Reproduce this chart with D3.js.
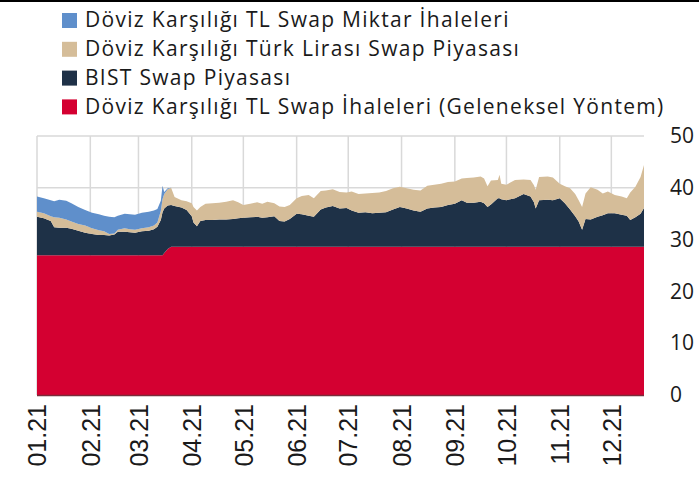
<!DOCTYPE html>
<html>
<head>
<meta charset="utf-8">
<script src="https://cdn.jsdelivr.net/npm/d3@7"></script>
<style>
  html, body { margin: 0; padding: 0; background: #fff; }
  svg { display: block; }
</style>
</head>
<body>
<svg id="chart" width="699" height="480"></svg>
<script>
// readings taken off the chart, billions USD, stacked bottom -> top
const dates = [
  '2021-01-01','2021-01-05','2021-01-09','2021-01-11','2021-01-14','2021-01-18','2021-01-21','2021-01-25','2021-01-29',
  '2021-02-02','2021-02-06','2021-02-09','2021-02-12','2021-02-15','2021-02-17','2021-02-21','2021-02-24','2021-02-27',
  '2021-03-03','2021-03-07','2021-03-10','2021-03-12','2021-03-14','2021-03-15','2021-03-16','2021-03-18','2021-03-20',
  '2021-03-22','2021-03-26','2021-03-29','2021-04-01','2021-04-02','2021-04-04','2021-04-06','2021-04-09','2021-04-13',
  '2021-04-17','2021-04-21','2021-04-25','2021-04-28','2021-05-01','2021-05-05','2021-05-09','2021-05-12','2021-05-15',
  '2021-05-19','2021-05-22','2021-05-25','2021-05-28','2021-06-01','2021-06-04','2021-06-08','2021-06-11','2021-06-15',
  '2021-06-18','2021-06-22','2021-06-26','2021-06-30','2021-07-03','2021-07-07','2021-07-11','2021-07-15','2021-07-19',
  '2021-07-23','2021-07-27','2021-07-31','2021-08-04','2021-08-08','2021-08-12','2021-08-16','2021-08-20','2021-08-24',
  '2021-08-28','2021-09-01','2021-09-05','2021-09-08','2021-09-12','2021-09-16','2021-09-18','2021-09-20','2021-09-22',
  '2021-09-26','2021-09-27','2021-09-28','2021-10-01','2021-10-06','2021-10-11','2021-10-15','2021-10-17','2021-10-18',
  '2021-10-20','2021-10-25','2021-10-28','2021-11-01','2021-11-04','2021-11-07','2021-11-10','2021-11-12','2021-11-14',
  '2021-11-16','2021-11-19','2021-11-23','2021-11-26','2021-11-29','2021-12-03','2021-12-07','2021-12-10','2021-12-12',
  '2021-12-15','2021-12-18','2021-12-20'
];

const geleneksel = [
  27, 27, 27, 27, 27, 27, 27, 27, 27,
  27, 27, 27, 27, 27, 27, 27, 27, 27,
  27, 27, 27, 27, 27, 27, 27.4, 28.2, 28.6,
  28.6, 28.6, 28.6, 28.6, 28.6, 28.6, 28.6, 28.6, 28.6,
  28.6, 28.6, 28.6, 28.6, 28.6, 28.6, 28.6, 28.6, 28.6,
  28.6, 28.6, 28.6, 28.6, 28.6, 28.6, 28.6, 28.6, 28.6,
  28.6, 28.6, 28.6, 28.6, 28.6, 28.6, 28.6, 28.6, 28.6,
  28.6, 28.6, 28.6, 28.6, 28.6, 28.6, 28.6, 28.6, 28.6,
  28.6, 28.6, 28.6, 28.6, 28.6, 28.6, 28.6, 28.6, 28.6,
  28.6, 28.6, 28.6, 28.6, 28.6, 28.6, 28.6, 28.6, 28.6,
  28.6, 28.6, 28.6, 28.6, 28.6, 28.6, 28.6, 28.6, 28.6,
  28.6, 28.6, 28.6, 28.6, 28.6, 28.6, 28.6, 28.6, 28.6,
  28.6, 28.6, 28.6
];

const bist = [
  7.4, 7.1, 6.6, 5.4, 5.3, 5.3, 5.1, 4.7, 4.3,
  4.1, 3.9, 3.9, 3.8, 4.0, 4.5, 4.5, 4.4, 4.3,
  4.6, 4.7, 5.0, 5.5, 6.8, 8.3, 8.6, 8.4, 8.1,
  7.9, 7.6, 7.1, 5.9, 4.7, 4.0, 5.0, 5.2, 5.2,
  5.3, 5.3, 5.4, 5.5, 5.6, 5.7, 5.8, 5.6, 5.7,
  5.9, 5.0, 4.9, 5.4, 6.4, 6.3, 6.0, 5.8, 7.2,
  7.6, 7.9, 7.4, 7.5, 7.0, 6.6, 6.7, 6.5, 6.6,
  6.7, 7.2, 7.7, 7.4, 7.0, 6.8, 7.4, 7.6, 7.7,
  8.1, 8.3, 9.0, 8.5, 8.5, 8.7, 8.4, 7.7, 8.2,
  9.4, 9.4, 9.2, 9.0, 9.4, 10.2, 9.7, 8.6, 7.4,
  9.0, 9.1, 9.0, 9.4, 8.4, 7.2, 5.9, 4.9, 3.3,
  5.4, 5.3, 5.8, 6.1, 6.5, 6.5, 6.2, 6.0, 5.2,
  5.7, 6.4, 7.5
];

const tlSwap = [
  1.0, 1.0, 0.9, 1.9, 1.9, 1.6, 1.4, 1.3, 1.4,
  1.1, 0.9, 0.7, 0.3, 0.2, 0.4, 0.7, 0.6, 0.6,
  0.6, 0.7, 0.7, 0.8, 1.7, 2.5, 2.8, 3.1, 3.3,
  1.7, 1.4, 1.7, 2.5, 3.0, 3.0, 2.7, 3.1, 3.2,
  3.2, 3.4, 3.6, 3.1, 2.5, 2.6, 2.8, 2.7, 3.0,
  2.5, 2.8, 2.8, 2.7, 3.0, 3.5, 4.0, 3.6, 3.6,
  3.3, 3.2, 3.2, 3.0, 3.7, 3.6, 3.6, 3.9, 3.9,
  4.1, 4.1, 3.9, 3.9, 4.0, 4.1, 4.4, 4.4, 4.5,
  4.4, 4.3, 4.2, 4.8, 4.9, 4.9, 4.8, 4.0, 4.6,
  3.5, 4.5, 3.0, 3.0, 3.5, 2.8, 3.2, 3.3, 3.6,
  4.5, 4.5, 4.4, 2.8, 3.3, 4.1, 4.3, 4.1, 4.4,
  4.9, 6.2, 5.2, 4.2, 4.2, 3.5, 3.5, 3.4, 5.3,
  5.9, 7.1, 8.3
];

const miktar = [
  2.9, 2.9, 3.1, 3.1, 3.5, 3.6, 3.5, 3.3, 3.0,
  3.0, 3.1, 3.0, 3.3, 3.1, 2.7, 2.8, 2.9, 2.9,
  3.0, 3.0, 2.9, 2.6, 2.0, 2.6, 0.4, 0.2, 0,
  0, 0, 0, 0, 0, 0, 0, 0, 0,
  0, 0, 0, 0, 0, 0, 0, 0, 0,
  0, 0, 0, 0, 0, 0, 0, 0, 0,
  0, 0, 0, 0, 0, 0, 0, 0, 0,
  0, 0, 0, 0, 0, 0, 0, 0, 0,
  0, 0, 0, 0, 0, 0, 0, 0, 0,
  0, 0, 0, 0, 0, 0, 0, 0, 0,
  0, 0, 0, 0, 0, 0, 0, 0, 0,
  0, 0, 0, 0, 0, 0, 0, 0, 0,
  0, 0, 0
];

const series = [
  { key: 'geleneksel', label: 'Döviz Karşılığı TL Swap İhaleleri (Geleneksel Yöntem)', color: '#d40031' },
  { key: 'bist', label: 'BIST Swap Piyasası', color: '#1e3147' },
  { key: 'tlSwap', label: 'Döviz Karşılığı Türk Lirası Swap Piyasası', color: '#d5bd99' },
  { key: 'miktar', label: 'Döviz Karşılığı TL Swap Miktar İhaleleri', color: '#5f8fcb' }
];

const monthTicks = ['01.21','02.21','03.21','04.21','05.21','06.21','07.21','08.21','09.21','10.21','11.21','12.21'];
const yTicks = [0, 10, 20, 30, 40, 50];

const parse = d3.timeParse('%Y-%m-%d');
const rows = dates.map((d, i) => ({
  date: parse(d),
  geleneksel: geleneksel[i],
  bist: bist[i],
  tlSwap: tlSwap[i],
  miktar: miktar[i]
}));

const svg = d3.select('#chart');
const plot = { left: 37, right: 644, top: 136, bottom: 395 };

const x = d3.scaleTime()
  .domain([parse('2021-01-01'), parse('2021-12-20')])
  .range([plot.left, plot.right]);

const y = d3.scaleLinear()
  .domain([0, 50])
  .range([plot.bottom, plot.top]);

// top rule
svg.append('line')
  .attr('x1', 0).attr('x2', 699)
  .attr('y1', 1).attr('y2', 1)
  .attr('stroke', '#000').attr('stroke-width', 2);

// grid
const monthDates = monthTicks.map((m) => parse(`20${m.slice(3)}-${m.slice(0, 2)}-01`));
const grid = svg.append('g').attr('stroke', '#d9d9d9').attr('stroke-width', 1.5);
grid.selectAll('line.v')
  .data(monthDates)
  .join('line')
  .attr('class', 'v')
  .attr('x1', (d) => x(d)).attr('x2', (d) => x(d))
  .attr('y1', plot.top).attr('y2', plot.bottom);
grid.selectAll('line.h')
  .data(yTicks)
  .join('line')
  .attr('class', 'h')
  .attr('x1', plot.left).attr('x2', plot.right)
  .attr('y1', (d) => y(d)).attr('y2', (d) => y(d));

// stacked areas
const stack = d3.stack().keys(series.map((s) => s.key));
const layers = stack(rows);

const area = d3.area()
  .x((d) => x(d.data.date))
  .y0((d) => y(d[0]))
  .y1((d) => y(d[1]))
  .curve(d3.curveLinear);

svg.append('g')
  .selectAll('path')
  .data(layers)
  .join('path')
  .attr('fill', (d, i) => series[i].color)
  .attr('d', area);

// base line
svg.append('line')
  .attr('x1', plot.left).attr('x2', plot.right)
  .attr('y1', plot.bottom + 0.5).attr('y2', plot.bottom + 0.5)
  .attr('stroke', '#7a2c3a').attr('stroke-width', 1.5);

// y axis on the right, labels only
const yAxis = svg.append('g')
  .attr('transform', `translate(${plot.right + 26},0)`)
  .call(d3.axisRight(y).tickValues(yTicks).tickSize(0).tickPadding(0));
yAxis.select('.domain').remove();
yAxis.selectAll('text')
  .attr('font-family', '"Open Sans", sans-serif')
  .attr('font-size', 21)
  .attr('fill', '#1a1a1a');

// x axis labels, rotated
const xAxis = svg.append('g')
  .attr('transform', `translate(0,${plot.bottom})`)
  .call(d3.axisBottom(x).tickValues(monthDates).tickFormat((d, i) => monthTicks[i]).tickSize(0).tickPadding(0));
xAxis.select('.domain').remove();
xAxis.selectAll('text')
  .attr('font-family', '"Liberation Sans", Arial, sans-serif')
  .attr('font-size', 25)
  .attr('fill', '#1a1a1a')
  .attr('text-anchor', 'end')
  .attr('dy', '0.35em')
  .attr('transform', 'translate(0,9) rotate(-90)');

// legend, top to bottom = top layer first
const legendItems = series.slice().reverse();
const legend = svg.append('g').attr('transform', 'translate(62,20)');
const item = legend.selectAll('g')
  .data(legendItems)
  .join('g')
  .attr('transform', (d, i) => `translate(0,${i * 28.8})`);
item.append('rect')
  .attr('x', 0).attr('y', -7)
  .attr('width', 15).attr('height', 15)
  .attr('fill', (d) => d.color);
item.append('text')
  .attr('x', 23).attr('y', 0)
  .attr('dy', '0.35em')
  .attr('font-family', '"Open Sans", sans-serif')
  .attr('font-size', 21)
  .attr('letter-spacing', 1.3)
  .attr('fill', '#1a1a1a')
  .text((d) => d.label);
</script>
</body>
</html>
